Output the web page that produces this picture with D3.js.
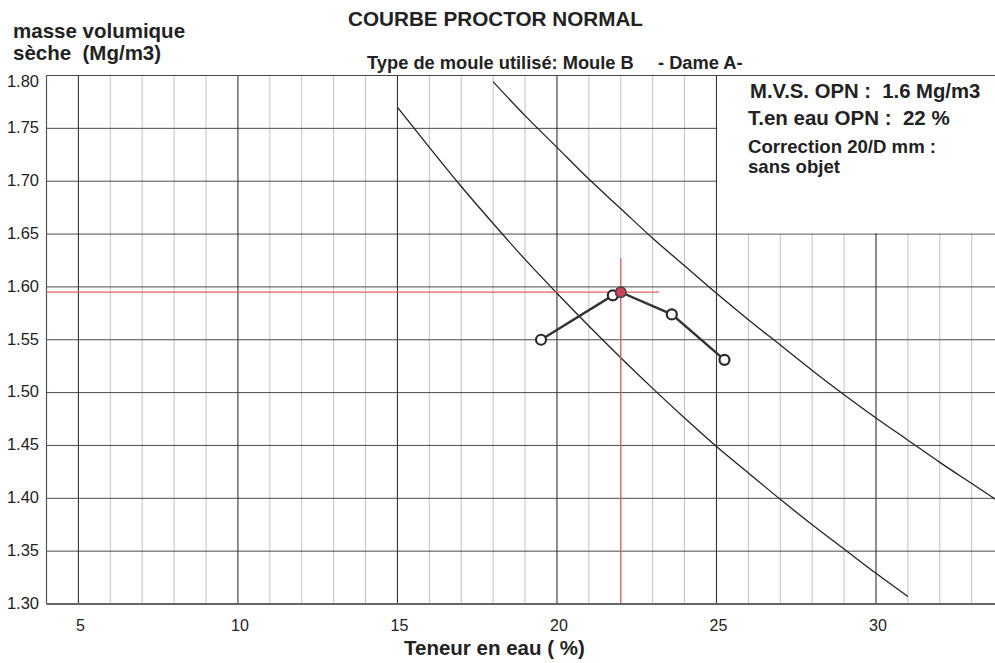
<!DOCTYPE html>
<html>
<head>
<meta charset="utf-8">
<script src="https://cdn.jsdelivr.net/npm/d3@7"></script>
<style>
  html, body { margin: 0; padding: 0; background: #fff; }
  svg { display: block; }
  text { font-family: "Liberation Sans", Arial, Helvetica, sans-serif; white-space: pre; }
</style>
</head>
<body>
<svg id="chart" width="995" height="663"></svg>
<script>
// ---------- data ----------
const xTicks = [5, 10, 15, 20, 25, 30];
const yTicks = [1.30, 1.35, 1.40, 1.45, 1.50, 1.55, 1.60, 1.65, 1.70, 1.75, 1.80];
const yTickLabels = ["1.30", "1.35", "1.40", "1.45", "1.50", "1.55", "1.60", "1.65", "1.70", "1.75", "1.80"];

// measured Proctor points (water content %, dry density Mg/m3)
const proctorW   = [19.5, 21.75, 22.0, 23.6, 25.25];
const proctorRho = [1.550, 1.592, 1.595, 1.574, 1.531];
// optimum (OPN)
const opnW = 22.0;
const opnRho = 1.595;
const opnHLineEndW = 23.2;     // red horizontal line ends here
const opnVLineTopRho = 1.627;  // red vertical line starts here

// saturation curves
const curveUpperW   = [18, 19, 20, 21, 22, 23, 24, 25, 26, 27, 28, 29, 30, 31, 32, 33, 33.8];
const curveUpperRho = [1.794, 1.762, 1.732, 1.702, 1.674, 1.646, 1.620, 1.594, 1.569, 1.545, 1.521, 1.498, 1.476, 1.455, 1.434, 1.414, 1.398];
const curveLowerW   = [15, 16, 17, 18, 19, 20, 21, 22, 23, 24, 25, 26, 27, 28, 29, 30, 31];
const curveLowerRho = [1.770, 1.732, 1.695, 1.660, 1.626, 1.594, 1.563, 1.533, 1.504, 1.476, 1.449, 1.424, 1.399, 1.375, 1.352, 1.329, 1.307];

const titleText = "COURBE PROCTOR NORMAL";
const subtitleText = "Type de moule utilisé: Moule B";
const subtitleText2 = "- Dame A-";
const yTitle1 = "masse volumique";
const yTitle2 = "sèche  (Mg/m3)";
const xTitle = "Teneur en eau ( %)";
const infoLines = ["M.V.S. OPN :  1.6 Mg/m3", "T.en eau OPN :  22 %", "Correction 20/D mm :", "sans objet"];

// ---------- layout ----------
const svg = d3.select("#chart");
const pLeft = 46.5, pTop = 75.5, pBottom = 604, pRight = 995;
const xMin = 4, xMax = 33.73;

const x = d3.scaleLinear().domain([xMin, xMax]).range([pLeft, pRight]);
const y = d3.scaleLinear().domain([1.30, 1.80]).range([pBottom, pTop]);

const g = svg.append("g");

// minor vertical grid (every 1 %)
const minorX = d3.range(5, 34, 1).filter(v => v % 5 !== 0);
g.selectAll("line.minor").data(minorX).enter().append("line")
  .attr("x1", d => x(d)).attr("x2", d => x(d))
  .attr("y1", pTop).attr("y2", pBottom)
  .attr("stroke", "#c2c2c2").attr("stroke-width", 1);

// horizontal grid
g.selectAll("line.hgrid").data(yTicks.slice(1)).enter().append("line")
  .attr("x1", pLeft).attr("x2", pRight)
  .attr("y1", d => y(d)).attr("y2", d => y(d))
  .attr("stroke", "#4a4a4a").attr("stroke-width", 1);

// major vertical grid
const majorX = [5, 10, 15, 20, 25, 30];
g.selectAll("line.major").data(majorX).enter().append("line")
  .attr("x1", d => x(d)).attr("x2", d => x(d))
  .attr("y1", pTop).attr("y2", pBottom)
  .attr("stroke", "#333").attr("stroke-width", 1.1);

// info box (white area top-right)
g.append("rect")
  .attr("x", x(25) + 0.8).attr("y", y(1.80))
  .attr("width", pRight - x(25)).attr("height", y(1.65) - y(1.80) - 0.8)
  .attr("fill", "#fff");

// frame
g.append("line").attr("x1", pLeft).attr("x2", pRight).attr("y1", pTop).attr("y2", pTop)
  .attr("stroke", "#444").attr("stroke-width", 1.2);
g.append("line").attr("x1", pLeft).attr("x2", pLeft).attr("y1", pTop).attr("y2", pBottom)
  .attr("stroke", "#555").attr("stroke-width", 1.2);
g.append("line").attr("x1", pLeft).attr("x2", pRight).attr("y1", pBottom).attr("y2", pBottom)
  .attr("stroke", "#666").attr("stroke-width", 2.2);

// saturation curves
const line = d3.line().x(d => x(d[0])).y(d => y(d[1])).curve(d3.curveMonotoneX);
g.append("path").attr("d", line(d3.zip(curveUpperW, curveUpperRho)))
  .attr("fill", "none").attr("stroke", "#222").attr("stroke-width", 1.3);
g.append("path").attr("d", line(d3.zip(curveLowerW, curveLowerRho)))
  .attr("fill", "none").attr("stroke", "#222").attr("stroke-width", 1.3);

// red crosshair
g.append("line").attr("x1", pLeft).attr("x2", x(opnHLineEndW))
  .attr("y1", y(opnRho)).attr("y2", y(opnRho))
  .attr("stroke", "#e06060").attr("stroke-width", 1.3);
g.append("line").attr("x1", x(opnW)).attr("x2", x(opnW))
  .attr("y1", y(opnVLineTopRho)).attr("y2", pBottom - 1)
  .attr("stroke", "#e06060").attr("stroke-width", 1.3);

// proctor curve
const pts = d3.zip(proctorW, proctorRho);
g.append("path").attr("d", d3.line().x(d => x(d[0])).y(d => y(d[1]))(pts))
  .attr("fill", "none").attr("stroke", "#333").attr("stroke-width", 2.4);
g.selectAll("circle.pt").data(pts.filter(d => d[0] !== opnW)).enter().append("circle")
  .attr("cx", d => x(d[0])).attr("cy", d => y(d[1])).attr("r", 5)
  .attr("fill", "#fff").attr("stroke", "#2a2a2a").attr("stroke-width", 2.2);
g.append("circle").attr("cx", x(opnW)).attr("cy", y(opnRho)).attr("r", 5.3)
  .attr("fill", "#c8455a").attr("stroke", "#444").attr("stroke-width", 1.5);

// y tick labels
g.selectAll("text.yt").data(yTicks).enter().append("text")
  .attr("x", 39).attr("y", d => Math.max(y(d) - 1, 81))
  .attr("dy", "0.35em").attr("text-anchor", "end")
  .attr("font-size", 16.5).attr("fill", "#222")
  .text((d, i) => yTickLabels[i]);

// x tick labels
g.selectAll("text.xt").data(xTicks).enter().append("text")
  .attr("x", d => x(d) + 2).attr("y", 631)
  .attr("text-anchor", "middle")
  .attr("font-size", 16).attr("fill", "#222")
  .text(d => d);

// titles
svg.append("text").attr("x", 348).attr("y", 26).attr("font-size", 20.7).attr("font-weight", "bold")
  .attr("fill", "#222").text(titleText);
svg.append("text").attr("x", 367).attr("y", 69).attr("font-size", 18.3).attr("font-weight", "bold")
  .attr("fill", "#222").text(subtitleText);
svg.append("text").attr("x", 658).attr("y", 69).attr("font-size", 18.3).attr("font-weight", "bold")
  .attr("fill", "#222").text(subtitleText2);
svg.append("text").attr("x", 13).attr("y", 38).attr("font-size", 20.5).attr("font-weight", "bold")
  .attr("fill", "#222").text(yTitle1);
svg.append("text").attr("x", 13).attr("y", 60).attr("font-size", 20.5).attr("font-weight", "bold")
  .attr("fill", "#222").text(yTitle2);
svg.append("text").attr("x", 404).attr("y", 655).attr("font-size", 20.5).attr("font-weight", "bold")
  .attr("fill", "#222").text(xTitle);

// info text
const infoPos = [[750, 98, 20.3], [748, 125, 20.5], [748, 153, 18.6], [748, 173, 18.6]];
infoLines.forEach((t, i) => {
  svg.append("text").attr("x", infoPos[i][0]).attr("y", infoPos[i][1])
    .attr("font-size", infoPos[i][2]).attr("font-weight", "bold")
    .attr("fill", "#222").text(t);
});
</script>
</body>
</html>
